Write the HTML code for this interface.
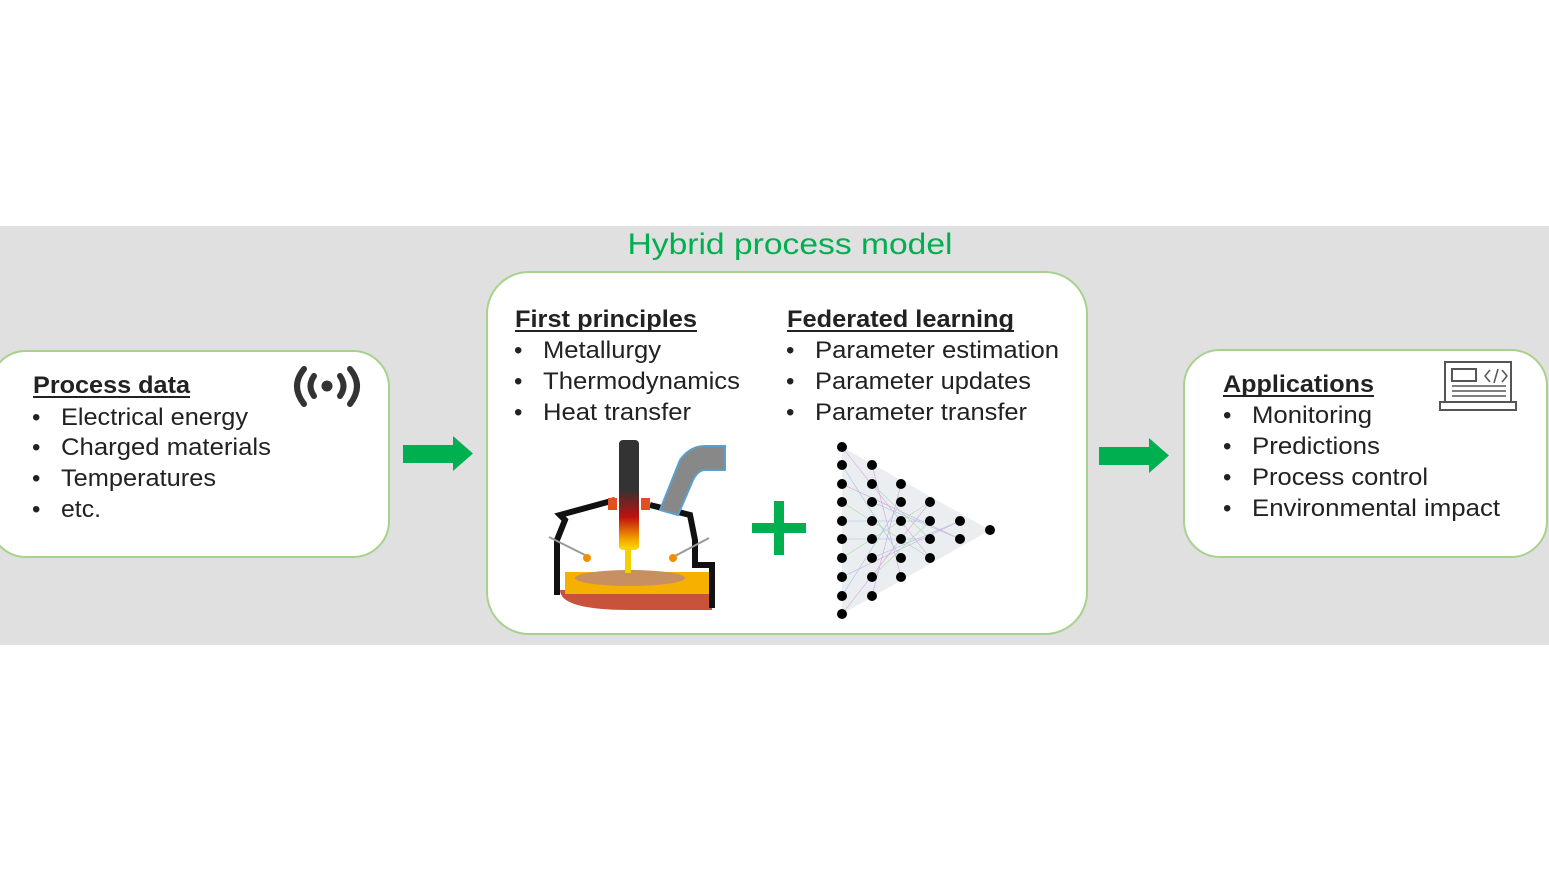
<!DOCTYPE html>
<html><head><meta charset="utf-8"><style>
html,body{margin:0;padding:0;background:#fff;}
svg{display:block;}
text{font-family:"Liberation Sans",Arial,sans-serif;fill:#222;}
</style></head><body>
<svg width="1549" height="871" viewBox="0 0 1549 871" xmlns="http://www.w3.org/2000/svg">
<rect x="0" y="226" width="1549" height="419" fill="#e0e0e0"/>
<text x="790" y="254" font-size="30" text-anchor="middle" style="fill:#00b050" textLength="325" lengthAdjust="spacingAndGlyphs">Hybrid process model</text>

<rect x="-10" y="351" width="399" height="206" rx="36" fill="#fff" stroke="#a9d18e" stroke-width="2"/>
<rect x="487" y="272" width="600" height="362" rx="42" fill="#fff" stroke="#a9d18e" stroke-width="2"/>
<rect x="1184" y="350" width="363" height="207" rx="36" fill="#fff" stroke="#a9d18e" stroke-width="2"/>

<polygon points="403,445 453,445 453,436 473,453.5 453,471 453,463 403,463" fill="#00b050"/>
<polygon points="1099,447 1149,447 1149,438 1169,455.5 1149,473 1149,465 1099,465" fill="#00b050"/>

<g font-size="24">
<text x="33" y="393" font-weight="bold" textLength="157" lengthAdjust="spacingAndGlyphs">Process data</text>
<line x1="33" y1="397" x2="190" y2="397" stroke="#222" stroke-width="2"/>
<text x="32" y="425">•</text><text x="61" y="425" textLength="187" lengthAdjust="spacingAndGlyphs">Electrical energy</text>
<text x="32" y="455">•</text><text x="61" y="455" textLength="210" lengthAdjust="spacingAndGlyphs">Charged materials</text>
<text x="32" y="486">•</text><text x="61" y="486" textLength="155" lengthAdjust="spacingAndGlyphs">Temperatures</text>
<text x="32" y="517">•</text><text x="61" y="517" textLength="40" lengthAdjust="spacingAndGlyphs">etc.</text>

<text x="515" y="327" font-weight="bold" textLength="182" lengthAdjust="spacingAndGlyphs">First principles</text>
<line x1="515" y1="331" x2="697" y2="331" stroke="#222" stroke-width="2"/>
<text x="514" y="358">•</text><text x="543" y="358" textLength="118" lengthAdjust="spacingAndGlyphs">Metallurgy</text>
<text x="514" y="389">•</text><text x="543" y="389" textLength="197" lengthAdjust="spacingAndGlyphs">Thermodynamics</text>
<text x="514" y="420">•</text><text x="543" y="420" textLength="148" lengthAdjust="spacingAndGlyphs">Heat transfer</text>

<text x="787" y="327" font-weight="bold" textLength="227" lengthAdjust="spacingAndGlyphs">Federated learning</text>
<line x1="787" y1="331" x2="1014" y2="331" stroke="#222" stroke-width="2"/>
<text x="786" y="358">•</text><text x="815" y="358" textLength="244" lengthAdjust="spacingAndGlyphs">Parameter estimation</text>
<text x="786" y="389">•</text><text x="815" y="389" textLength="216" lengthAdjust="spacingAndGlyphs">Parameter updates</text>
<text x="786" y="420">•</text><text x="815" y="420" textLength="212" lengthAdjust="spacingAndGlyphs">Parameter transfer</text>

<text x="1223" y="392" font-weight="bold" textLength="151" lengthAdjust="spacingAndGlyphs">Applications</text>
<line x1="1223" y1="396" x2="1374" y2="396" stroke="#222" stroke-width="2"/>
<text x="1223" y="423">•</text><text x="1252" y="423" textLength="120" lengthAdjust="spacingAndGlyphs">Monitoring</text>
<text x="1223" y="454">•</text><text x="1252" y="454" textLength="128" lengthAdjust="spacingAndGlyphs">Predictions</text>
<text x="1223" y="485">•</text><text x="1252" y="485" textLength="176" lengthAdjust="spacingAndGlyphs">Process control</text>
<text x="1223" y="516">•</text><text x="1252" y="516" textLength="248" lengthAdjust="spacingAndGlyphs">Environmental impact</text>
</g>

<g fill="none" stroke="#333" stroke-width="6" stroke-linecap="round">
<path d="M304,369 Q290,386 304,404"/>
<path d="M314,376 Q307,386 314,396"/>
<path d="M350,369 Q364,386 350,404"/>
<path d="M340,376 Q347,386 340,396"/>
</g>
<circle cx="327" cy="386" r="5.5" fill="#333"/>

<g fill="none" stroke="#555" stroke-width="2">
<rect x="1445" y="362" width="66" height="40"/>
<rect x="1452" y="369" width="24" height="12"/>
<rect x="1440" y="402" width="76" height="8"/>
<path d="M1490,370 l-5,6 l5,6 M1502,370 l5,6 l-5,6 M1498,369 l-4,14" stroke-width="1.5"/>
<path d="M1452,386 h54 M1452,391 h54 M1452,396 h54" stroke-width="1.5"/>
</g>

<defs>
<linearGradient id="el" x1="0" y1="0" x2="0" y2="1">
<stop offset="0" stop-color="#333"/><stop offset="0.45" stop-color="#333"/>
<stop offset="0.7" stop-color="#c01010"/><stop offset="0.9" stop-color="#f5a000"/><stop offset="1" stop-color="#f8e000"/>
</linearGradient>
</defs>
<path d="M560,590 Q560,610 630,610 L712,610 L712,590 Z" fill="#c8533a"/>
<rect x="565" y="572" width="145" height="22" fill="#f5b000"/>
<ellipse cx="630" cy="578" rx="55" ry="8" fill="#c89060"/>
<path d="M557,595 L557,540 L565,520 L560,515 L615,500 M650,505 L690,515 L695,540 L695,565 L712,565 L712,608" fill="none" stroke="#111" stroke-width="6"/>
<rect x="619" y="440" width="20" height="110" rx="4" fill="url(#el)"/>
<rect x="625" y="548" width="6" height="25" fill="#f5d000"/>
<path d="M660,510 L680,460 Q690,446 705,446 L725,446 L725,470 L705,470 Q698,470 693,480 L678,515 Z" fill="#888" stroke="#5aa0c8" stroke-width="2"/>
<rect x="608" y="498" width="9" height="12" fill="#e05020"/>
<rect x="641" y="498" width="9" height="12" fill="#e05020"/>
<line x1="549" y1="537" x2="585" y2="555" stroke="#999" stroke-width="2"/>
<line x1="709" y1="538" x2="675" y2="556" stroke="#999" stroke-width="2"/>
<circle cx="587" cy="558" r="4" fill="#f09000"/><circle cx="673" cy="558" r="4" fill="#f09000"/>

<rect x="752" y="523" width="54" height="10" fill="#00b050"/>
<rect x="774" y="501" width="10" height="54" fill="#00b050"/>

<polygon points="842,447 990,530 842,614" fill="#eaeef0"/>
<g stroke-width="0.6" opacity="0.7">
<path d="M842,447 L930,558 M842,614 L930,502 M842,484 L960,539 M842,577 L960,521 M872,465 L901,577 M872,596 L901,484" stroke="#d080d0"/>
<path d="M842,465 L901,558 M842,596 L901,502 M842,521 L930,521 M842,539 L930,539 M872,502 L960,539 M872,558 L960,521" stroke="#80b0e0"/>
<path d="M842,502 L930,558 M842,558 L930,502 M872,484 L930,539 M872,577 L930,521" stroke="#90d090"/>
</g>
<g fill="#000">
<circle cx="842" cy="447" r="5"/><circle cx="842" cy="465" r="5"/><circle cx="842" cy="484" r="5"/><circle cx="842" cy="502" r="5"/><circle cx="842" cy="521" r="5"/><circle cx="842" cy="539" r="5"/><circle cx="842" cy="558" r="5"/><circle cx="842" cy="577" r="5"/><circle cx="842" cy="596" r="5"/><circle cx="842" cy="614" r="5"/>
<circle cx="872" cy="465" r="5"/><circle cx="872" cy="484" r="5"/><circle cx="872" cy="502" r="5"/><circle cx="872" cy="521" r="5"/><circle cx="872" cy="539" r="5"/><circle cx="872" cy="558" r="5"/><circle cx="872" cy="577" r="5"/><circle cx="872" cy="596" r="5"/>
<circle cx="901" cy="484" r="5"/><circle cx="901" cy="502" r="5"/><circle cx="901" cy="521" r="5"/><circle cx="901" cy="539" r="5"/><circle cx="901" cy="558" r="5"/><circle cx="901" cy="577" r="5"/>
<circle cx="930" cy="502" r="5"/><circle cx="930" cy="521" r="5"/><circle cx="930" cy="539" r="5"/><circle cx="930" cy="558" r="5"/>
<circle cx="960" cy="521" r="5"/><circle cx="960" cy="539" r="5"/>
<circle cx="990" cy="530" r="5"/>
</g>
</svg>
</body></html>
